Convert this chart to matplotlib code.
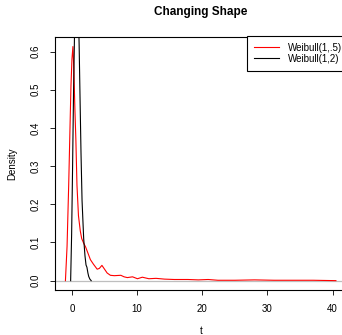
import numpy as np
import matplotlib.pyplot as plt

plt.rcParams['font.family'] = ['Liberation Sans', 'DejaVu Sans']

# kernel density estimates
red_t = [-1.0, -0.75, -0.5, -0.3, -0.15, 0.0, 0.15, 0.3, 0.45, 0.6, 0.77, 1.0, 1.28, 1.5,
         1.8, 2.1, 2.5, 2.83, 3.3, 3.87, 4.2, 4.6, 5.0, 5.4, 5.9, 6.5, 7.5, 8.0, 8.5,
         9.3, 10.05, 10.8, 11.8, 12.9, 14.2, 15.7, 17.8, 19.4, 20.9, 22.4, 25.0, 28.0,
         31.0, 34.0, 37.0, 40.5]
red_d = [0.0, 0.09, 0.25, 0.40, 0.51, 0.58, 0.613, 0.55, 0.45, 0.37, 0.25, 0.17, 0.13, 0.11,
         0.098, 0.088, 0.07, 0.055, 0.043, 0.03, 0.032, 0.04, 0.03, 0.02, 0.014, 0.013,
         0.014, 0.01, 0.008, 0.01, 0.005, 0.009, 0.005, 0.006, 0.004, 0.003, 0.003,
         0.002, 0.003, 0.001, 0.001, 0.002, 0.001, 0.001, 0.001, 0.0]

black_t = [-0.2, -0.05, 0.1, 0.25, 0.4, 0.55, 0.75, 0.95, 1.1, 1.25, 1.39, 1.55, 1.8,
           2.0, 2.16, 2.3, 2.45, 2.57, 2.75, 2.95]
black_d = [0.0, 0.12, 0.3, 0.5, 0.65, 0.76, 0.8, 0.73, 0.62, 0.47, 0.334, 0.21, 0.11,
           0.065, 0.041, 0.035, 0.02, 0.011, 0.004, 0.0]

labels = ['Weibull(1,.5)', 'Weibull(1,2)']

fig = plt.figure(figsize=(3.42, 3.35), dpi=100)
ax = fig.add_axes([55 / 342, 1 - 290 / 335, 292 / 342, 253 / 335])

ax.axhline(0, color='#BEBEBE', lw=0.9)
ax.plot(red_t, red_d, color='red', lw=0.8, label=labels[0])
ax.plot(black_t, black_d, color='black', lw=0.8, label=labels[1])

ax.set_xlim(-2.6, 42.2)
ax.set_ylim(-0.0245, 0.638)
ax.set_xticks([0, 10, 20, 30, 40])
ax.set_yticks([0.0, 0.1, 0.2, 0.3, 0.4, 0.5, 0.6])
ax.set_yticklabels(['0.0', '0.1', '0.2', '0.3', '0.4', '0.5', '0.6'],
                   rotation=90, va='center')
ax.tick_params(labelsize=7, length=3.5, width=0.6, pad=6.5)
for s in ax.spines.values():
    s.set_linewidth(0.8)
ax.spines['right'].set_visible(False)

ax.set_title('Changing Shape', fontsize=8.5, fontweight='bold', pad=15.5)
ax.set_xlabel('t', fontsize=7, labelpad=9)
ax.set_ylabel('Density', fontsize=7, labelpad=10)

leg = ax.legend(loc='upper left', bbox_to_anchor=(247 / 342, 1 - 36 / 335),
                bbox_transform=fig.transFigure, fontsize=7, fancybox=False,
                edgecolor='black', framealpha=1, borderaxespad=0,
                handlelength=2.6, handletextpad=0.9, labelspacing=0.1,
                borderpad=0.7)
leg.get_frame().set_linewidth(0.8)

plt.savefig('out.png', dpi=100)
